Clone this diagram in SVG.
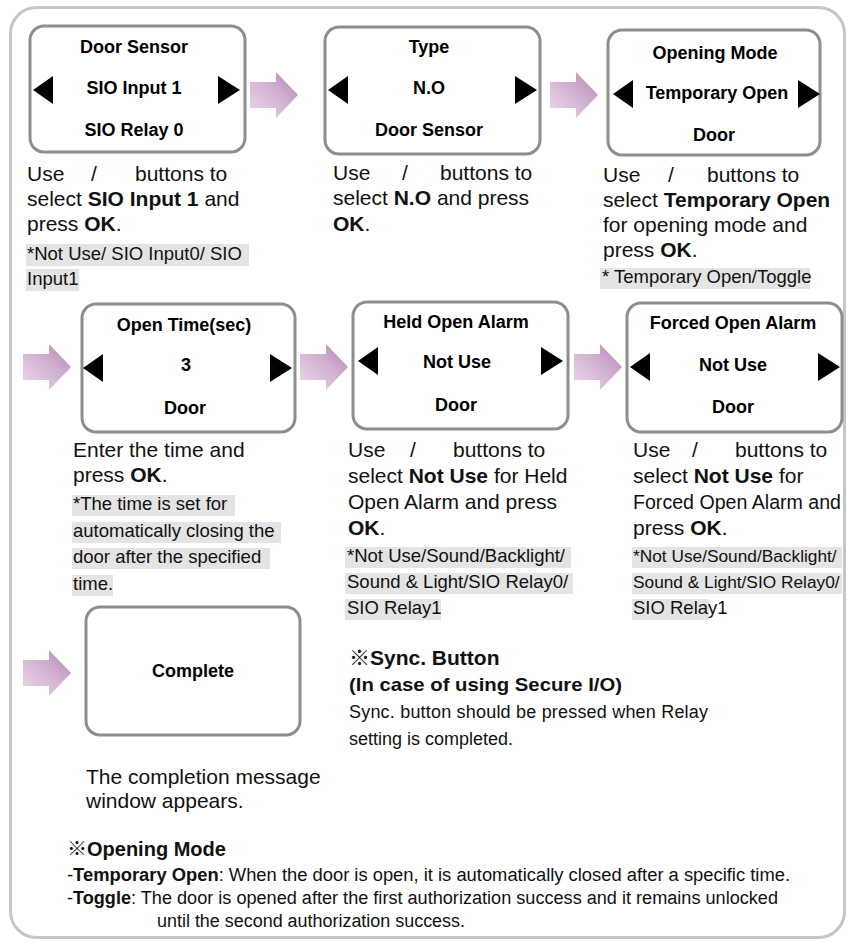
<svg xmlns="http://www.w3.org/2000/svg" width="848" height="943" viewBox="0 0 848 943">
<defs>
<linearGradient id="pk" x1="0" y1="1" x2="1" y2="0">
<stop offset="0" stop-color="#eadaea"/>
<stop offset="0.6" stop-color="#cfadcf"/>
<stop offset="1" stop-color="#b081b0"/>
</linearGradient>
<path id="arr" d="M0,-13 H26 V-23 L48,0 L26,23 V13 H0 Z" fill="url(#pk)"/>
<path id="tl" d="M0,0 L20,-14 L20,14 Z" fill="#000"/>
<path id="tr" d="M0,-14 L22,0 L0,14 Z" fill="#000"/>
</defs>
<style>
.frame{fill:#fff;stroke:#c6c6c6;stroke-width:3}
.box{fill:#fff;stroke:#8e8e8e;stroke-width:3}
.bt{font-family:"Liberation Sans",Arial,sans-serif;font-size:18px;font-weight:bold;fill:#000;text-anchor:middle}
.d{font-family:"Liberation Sans",Arial,sans-serif;font-size:21px;fill:#111}
.n{font-family:"Liberation Sans",Arial,sans-serif;font-size:18.5px;fill:#111}
.d2{font-family:"Liberation Sans",Arial,sans-serif;font-size:19.6px;fill:#111}
.n2{font-family:"Liberation Sans",Arial,sans-serif;font-size:17.3px;fill:#111}
.nb{fill:#e4e4e4}
.b{font-weight:bold}
.s{font-family:"Liberation Sans","Noto Sans CJK KR",sans-serif;fill:#111}
</style>
<rect class="frame" x="10.5" y="7.5" width="834" height="930" rx="26"/>

<g id="connectors">
<use href="#arr" x="250" y="95"/>
<use href="#arr" x="550" y="95"/>
<use href="#arr" x="23" y="367"/>
<use href="#arr" x="300" y="367"/>
<use href="#arr" x="574" y="367"/>
<use href="#arr" x="23" y="673"/>
</g>

<g id="door-sensor">
<rect class="box" x="30" y="26" width="215" height="126" rx="14"/>
<text class="bt" x="134" y="53">Door Sensor</text>
<text class="bt" x="134" y="94">SIO Input 1</text>
<text class="bt" x="134" y="136">SIO Relay 0</text>
<use href="#tl" x="33" y="90"/>
<use href="#tr" x="218" y="90"/>
<text class="d" x="27" y="181">Use</text><text class="d" x="91" y="181">/</text><text class="d" x="135" y="181">buttons to</text>
<text class="d" x="27" y="206">select <tspan class="b">SIO Input 1</tspan> and</text>
<text class="d" x="27" y="231">press <tspan class="b">OK</tspan>.</text>
<rect class="nb" x="26" y="244" width="223" height="22"/>
<text class="n" x="27" y="260">*Not Use/ SIO Input0/ SIO</text>
<rect class="nb" x="26" y="269" width="53" height="22"/>
<text class="n" x="27" y="285">Input1</text>
</g>

<g id="type">
<rect class="box" x="325" y="27" width="215" height="127" rx="14"/>
<text class="bt" x="429" y="53">Type</text>
<text class="bt" x="429" y="94">N.O</text>
<text class="bt" x="429" y="136">Door Sensor</text>
<use href="#tl" x="328" y="90"/>
<use href="#tr" x="515" y="90"/>
<text class="d" x="333" y="180">Use</text><text class="d" x="402" y="180">/</text><text class="d" x="440" y="180">buttons to</text>
<text class="d" x="333" y="205">select <tspan class="b">N.O</tspan> and press</text>
<text class="d" x="333" y="231"><tspan class="b">OK</tspan>.</text>
</g>

<g id="opening-mode">
<rect class="box" x="608" y="30" width="212" height="125" rx="14"/>
<text class="bt" x="715" y="59">Opening Mode</text>
<text class="bt" x="717" y="99">Temporary Open</text>
<text class="bt" x="714" y="141">Door</text>
<use href="#tl" x="613" y="94"/>
<use href="#tr" x="798" y="94"/>
<text class="d" x="603" y="182">Use</text><text class="d" x="668" y="182">/</text><text class="d" x="707" y="182">buttons to</text>
<text class="d" x="603" y="207">select <tspan class="b">Temporary Open</tspan></text>
<text class="d" x="603" y="232">for opening mode and</text>
<text class="d" x="603" y="257">press <tspan class="b">OK</tspan>.</text>
<rect class="nb" x="600" y="268" width="210" height="21"/>
<text class="n" x="602" y="283">* Temporary Open/Toggle</text>
</g>

<g id="open-time">
<rect class="box" x="82" y="304" width="213" height="128" rx="14"/>
<text class="bt" x="184" y="331">Open Time(sec)</text>
<text class="bt" x="186" y="371">3</text>
<text class="bt" x="185" y="414">Door</text>
<use href="#tl" x="83" y="368"/>
<use href="#tr" x="270" y="368"/>
<text class="d" x="73" y="457">Enter the time and</text>
<text class="d" x="73" y="482">press <tspan class="b">OK</tspan>.</text>
<rect class="nb" x="72" y="495" width="163" height="21"/>
<text class="n" x="73" y="510">*The time is set for</text>
<rect class="nb" x="72" y="522" width="209" height="21"/>
<text class="n" x="73" y="537">automatically closing the</text>
<rect class="nb" x="72" y="548" width="198" height="21"/>
<text class="n" x="73" y="563">door after the specified</text>
<rect class="nb" x="72" y="575" width="41" height="21"/>
<text class="n" x="73" y="590">time.</text>
</g>

<g id="held-open-alarm">
<rect class="box" x="353" y="302" width="215" height="127" rx="14"/>
<text class="bt" x="456" y="328">Held Open Alarm</text>
<text class="bt" x="457" y="368">Not Use</text>
<text class="bt" x="456" y="411">Door</text>
<use href="#tl" x="358" y="361"/>
<use href="#tr" x="541" y="361"/>
<text class="d" x="348" y="457">Use</text><text class="d" x="410" y="457">/</text><text class="d" x="453" y="457">buttons to</text>
<text class="d" x="348" y="483">select <tspan class="b">Not Use</tspan> for Held</text>
<text class="d" x="348" y="509">Open Alarm and press</text>
<text class="d" x="348" y="535"><tspan class="b">OK</tspan>.</text>
<rect class="nb" x="345" y="547" width="226" height="21"/>
<text class="n" x="347" y="562">*Not Use/Sound/Backlight/</text>
<rect class="nb" x="345" y="573" width="228" height="21"/>
<text class="n" x="347" y="588">Sound &amp; Light/SIO Relay0/</text>
<rect class="nb" x="345" y="599" width="96" height="21"/>
<text class="n" x="347" y="614">SIO Relay1</text>
</g>

<g id="forced-open-alarm">
<rect class="box" x="627" y="303" width="215" height="129" rx="14"/>
<text class="bt" x="733" y="329">Forced Open Alarm</text>
<text class="bt" x="733" y="371">Not Use</text>
<text class="bt" x="733" y="413">Door</text>
<use href="#tl" x="630" y="367"/>
<use href="#tr" x="818" y="367"/>
<text class="d" x="633" y="457">Use</text><text class="d" x="692" y="457">/</text><text class="d" x="735" y="457">buttons to</text>
<text class="d" x="633" y="483">select <tspan class="b">Not Use</tspan> for</text>
<text class="d2" x="633" y="509">Forced Open Alarm and</text>
<text class="d" x="633" y="535">press <tspan class="b">OK</tspan>.</text>
<rect class="nb" x="632" y="547" width="210" height="21"/>
<text class="n2" x="633" y="562">*Not Use/Sound/Backlight/</text>
<rect class="nb" x="632" y="573" width="210" height="21"/>
<text class="n2" x="633" y="588">Sound &amp; Light/SIO Relay0/</text>
<rect class="nb" x="632" y="599" width="77" height="21"/>
<text class="n" x="633" y="614">SIO Relay1</text>
</g>

<g id="complete">
<rect class="box" x="86" y="607" width="214" height="128" rx="14"/>
<text class="bt" x="193" y="677">Complete</text>
<text class="d" x="86" y="784">The completion message</text>
<text class="d" x="86" y="808">window appears.</text>
</g>

<g id="sync-note">
<text class="s" x="349" y="665" font-size="21" font-weight="bold">※Sync. Button</text>
<text class="s" x="349" y="691" font-size="19" font-weight="bold" textLength="273" lengthAdjust="spacingAndGlyphs">(In case of using Secure I/O)</text>
<text class="s" x="349" y="718" font-size="18" textLength="359">Sync. button should be pressed when Relay</text>
<text class="s" x="349" y="745" font-size="18">setting is completed.</text>
</g>

<g id="opening-mode-note">
<text class="s" x="67" y="856" font-size="20" font-weight="bold">※Opening Mode</text>
<text class="s" x="67" y="881" font-size="18" textLength="723" lengthAdjust="spacingAndGlyphs">-<tspan font-weight="bold">Temporary Open</tspan>: When the door is open, it is automatically closed after a specific time.</text>
<text class="s" x="67" y="904" font-size="18" textLength="711" lengthAdjust="spacingAndGlyphs">-<tspan font-weight="bold">Toggle</tspan>: The door is opened after the first authorization success and it remains unlocked</text>
<text class="s" x="157" y="927" font-size="18" textLength="308" lengthAdjust="spacingAndGlyphs">until the second authorization success.</text>
</g>
</svg>
